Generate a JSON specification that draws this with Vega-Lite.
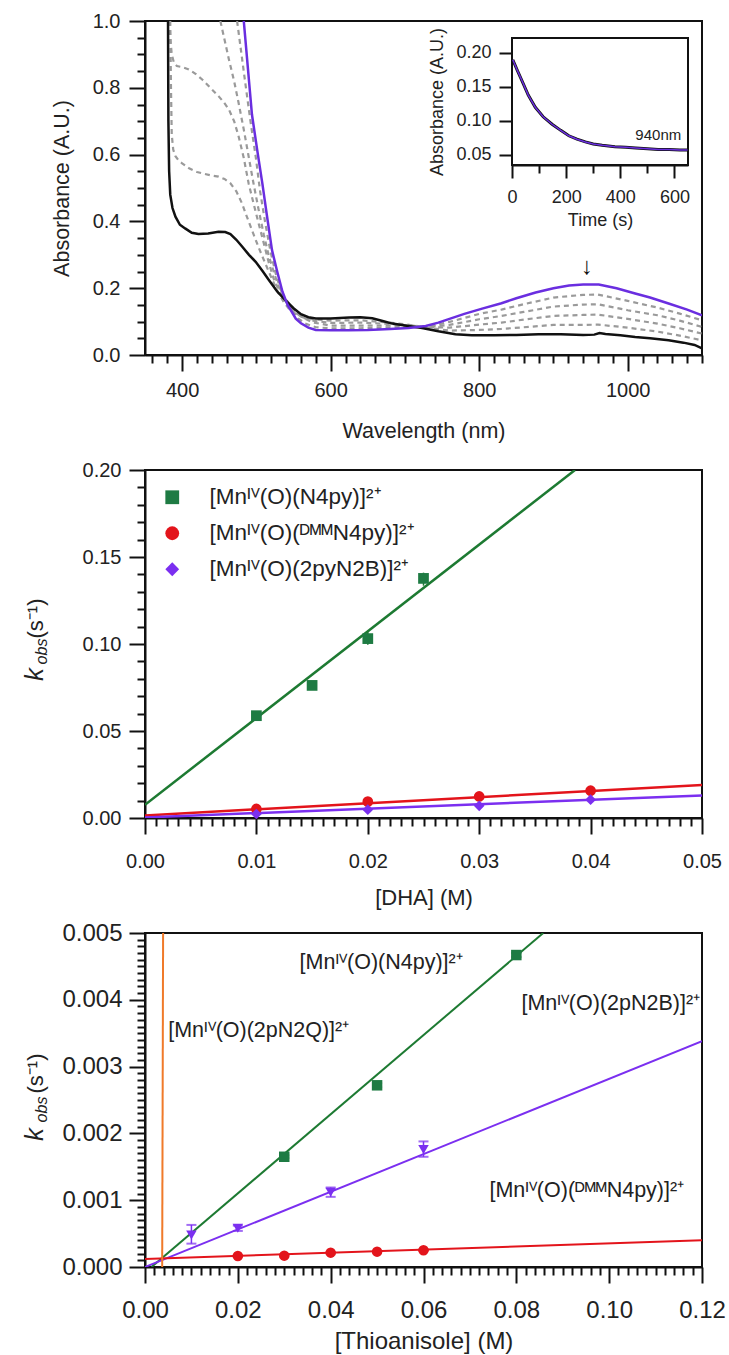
{
"$schema": "https://vega.github.io/schema/vega-lite/v6.json",
"background": "white",
"padding": {"left": 20, "top": 10, "right": 0, "bottom": 0},
"bounds": "flush",
"spacing": 115,
"resolve": {"scale": {"color": "independent", "shape": "independent", "stroke": "independent", "fill": "independent"}},
"config": {
 "font": "Liberation Sans",
 "view": {"stroke": "#111", "strokeWidth": 2},
 "axis": {"labelFont": "Liberation Sans", "titleFont": "Liberation Sans", "labelColor": "#222", "titleColor": "#222", "tickColor": "#111", "domainColor": "#111", "domainWidth": 2, "tickWidth": 2, "grid": false, "titleFontWeight": "normal", "labelOverlap": false, "labelFlush": false},
 "legend": {"labelFont": "Liberation Sans", "labelColor": "#222"},
 "text": {"font": "Liberation Sans", "color": "#222"}
},
"datasets": {
 "solid": [
  {"s":"k","w":381,"a":1.0},{"s":"k","w":381.5,"a":0.7},{"s":"k","w":382.5,"a":0.55},{"s":"k","w":384,"a":0.48},{"s":"k","w":387,"a":0.44},{"s":"k","w":391,"a":0.414},{"s":"k","w":397,"a":0.39},{"s":"k","w":404,"a":0.379},{"s":"k","w":413,"a":0.366},{"s":"k","w":422,"a":0.362},{"s":"k","w":435,"a":0.364},{"s":"k","w":449,"a":0.369},{"s":"k","w":458,"a":0.368},{"s":"k","w":465,"a":0.362},{"s":"k","w":473,"a":0.345},{"s":"k","w":481,"a":0.324},{"s":"k","w":490,"a":0.3},{"s":"k","w":499,"a":0.279},{"s":"k","w":508,"a":0.252},{"s":"k","w":517,"a":0.224},{"s":"k","w":528,"a":0.19},{"s":"k","w":539,"a":0.164},{"s":"k","w":550,"a":0.14},{"s":"k","w":560,"a":0.122},{"s":"k","w":570,"a":0.113},{"s":"k","w":580,"a":0.109},{"s":"k","w":600,"a":0.109},{"s":"k","w":625,"a":0.112},{"s":"k","w":640,"a":0.113},{"s":"k","w":656,"a":0.11},{"s":"k","w":670,"a":0.102},{"s":"k","w":683,"a":0.094},{"s":"k","w":700,"a":0.088},{"s":"k","w":723,"a":0.081},{"s":"k","w":745,"a":0.071},{"s":"k","w":768,"a":0.062},{"s":"k","w":790,"a":0.059},{"s":"k","w":820,"a":0.059},{"s":"k","w":850,"a":0.06},{"s":"k","w":880,"a":0.062},{"s":"k","w":910,"a":0.062},{"s":"k","w":940,"a":0.06},{"s":"k","w":955,"a":0.061},{"s":"k","w":962,"a":0.066},{"s":"k","w":970,"a":0.063},{"s":"k","w":990,"a":0.059},{"s":"k","w":1010,"a":0.054},{"s":"k","w":1030,"a":0.05},{"s":"k","w":1055,"a":0.044},{"s":"k","w":1075,"a":0.037},{"s":"k","w":1090,"a":0.03},{"s":"k","w":1100,"a":0.02},
  {"s":"p","w":483,"a":1.0},{"s":"p","w":494,"a":0.72},{"s":"p","w":501,"a":0.615},{"s":"p","w":508,"a":0.514},{"s":"p","w":514,"a":0.42},{"s":"p","w":521,"a":0.314},{"s":"p","w":528,"a":0.25},{"s":"p","w":535,"a":0.19},{"s":"p","w":542,"a":0.15},{"s":"p","w":548,"a":0.128},{"s":"p","w":553,"a":0.109},{"s":"p","w":560,"a":0.095},{"s":"p","w":570,"a":0.082},{"s":"p","w":580,"a":0.075},{"s":"p","w":600,"a":0.074},{"s":"p","w":624,"a":0.074},{"s":"p","w":650,"a":0.075},{"s":"p","w":680,"a":0.078},{"s":"p","w":705,"a":0.081},{"s":"p","w":728,"a":0.087},{"s":"p","w":745,"a":0.097},{"s":"p","w":760,"a":0.108},{"s":"p","w":780,"a":0.123},{"s":"p","w":804,"a":0.139},{"s":"p","w":830,"a":0.155},{"s":"p","w":850,"a":0.17},{"s":"p","w":876,"a":0.187},{"s":"p","w":900,"a":0.2},{"s":"p","w":921,"a":0.208},{"s":"p","w":940,"a":0.211},{"s":"p","w":961,"a":0.211},{"s":"p","w":985,"a":0.2},{"s":"p","w":1010,"a":0.184},{"s":"p","w":1030,"a":0.172},{"s":"p","w":1055,"a":0.154},{"s":"p","w":1080,"a":0.136},{"s":"p","w":1100,"a":0.119}
 ],
 "dashed": [
  {"s":"d1","w":474,"a":1.0},{"s":"d1","w":485,"a":0.815},{"s":"d1","w":492,"a":0.7},{"s":"d1","w":499,"a":0.595},{"s":"d1","w":505,"a":0.49},{"s":"d1","w":512,"a":0.394},{"s":"d1","w":519,"a":0.31},{"s":"d1","w":526,"a":0.244},{"s":"d1","w":532,"a":0.2},{"s":"d1","w":539,"a":0.164},{"s":"d1","w":548,"a":0.135},{"s":"d1","w":556,"a":0.11},{"s":"d1","w":565,"a":0.095},{"s":"d1","w":580,"a":0.083},{"s":"d1","w":600,"a":0.08},{"s":"d1","w":640,"a":0.08},{"s":"d1","w":680,"a":0.082},{"s":"d1","w":710,"a":0.083},{"s":"d1","w":730,"a":0.085},{"s":"d1","w":760,"a":0.099},{"s":"d1","w":800,"a":0.123},{"s":"d1","w":830,"a":0.136},{"s":"d1","w":860,"a":0.152},{"s":"d1","w":900,"a":0.172},{"s":"d1","w":940,"a":0.18},{"s":"d1","w":960,"a":0.181},{"s":"d1","w":1000,"a":0.162},{"s":"d1","w":1040,"a":0.142},{"s":"d1","w":1070,"a":0.124},{"s":"d1","w":1100,"a":0.104},
  {"s":"d2","w":451.5,"a":1.0},{"s":"d2","w":463,"a":0.885},{"s":"d2","w":470,"a":0.82},{"s":"d2","w":476,"a":0.755},{"s":"d2","w":483,"a":0.675},{"s":"d2","w":489.5,"a":0.595},{"s":"d2","w":496,"a":0.515},{"s":"d2","w":503,"a":0.435},{"s":"d2","w":510,"a":0.36},{"s":"d2","w":517,"a":0.294},{"s":"d2","w":524,"a":0.245},{"s":"d2","w":530,"a":0.204},{"s":"d2","w":537,"a":0.175},{"s":"d2","w":544,"a":0.154},{"s":"d2","w":552,"a":0.133},{"s":"d2","w":562,"a":0.113},{"s":"d2","w":575,"a":0.098},{"s":"d2","w":600,"a":0.088},{"s":"d2","w":640,"a":0.088},{"s":"d2","w":680,"a":0.088},{"s":"d2","w":710,"a":0.086},{"s":"d2","w":730,"a":0.084},{"s":"d2","w":760,"a":0.09},{"s":"d2","w":800,"a":0.107},{"s":"d2","w":830,"a":0.117},{"s":"d2","w":860,"a":0.129},{"s":"d2","w":900,"a":0.145},{"s":"d2","w":940,"a":0.151},{"s":"d2","w":960,"a":0.152},{"s":"d2","w":1000,"a":0.134},{"s":"d2","w":1040,"a":0.119},{"s":"d2","w":1070,"a":0.103},{"s":"d2","w":1100,"a":0.084},
  {"s":"d3","w":383,"a":1.0},{"s":"d3","w":384,"a":0.95},{"s":"d3","w":386,"a":0.9},{"s":"d3","w":389,"a":0.875},{"s":"d3","w":393,"a":0.865},{"s":"d3","w":400,"a":0.862},{"s":"d3","w":409,"a":0.855},{"s":"d3","w":418,"a":0.842},{"s":"d3","w":427,"a":0.825},{"s":"d3","w":438,"a":0.8},{"s":"d3","w":449,"a":0.775},{"s":"d3","w":456,"a":0.757},{"s":"d3","w":463,"a":0.735},{"s":"d3","w":470,"a":0.7},{"s":"d3","w":476,"a":0.655},{"s":"d3","w":483,"a":0.59},{"s":"d3","w":489.5,"a":0.514},{"s":"d3","w":496,"a":0.455},{"s":"d3","w":503,"a":0.394},{"s":"d3","w":510,"a":0.334},{"s":"d3","w":517,"a":0.274},{"s":"d3","w":523,"a":0.23},{"s":"d3","w":530,"a":0.194},{"s":"d3","w":537,"a":0.168},{"s":"d3","w":543.5,"a":0.149},{"s":"d3","w":552,"a":0.128},{"s":"d3","w":562,"a":0.112},{"s":"d3","w":575,"a":0.103},{"s":"d3","w":600,"a":0.096},{"s":"d3","w":640,"a":0.097},{"s":"d3","w":680,"a":0.093},{"s":"d3","w":710,"a":0.088},{"s":"d3","w":730,"a":0.083},{"s":"d3","w":760,"a":0.082},{"s":"d3","w":800,"a":0.091},{"s":"d3","w":830,"a":0.097},{"s":"d3","w":860,"a":0.106},{"s":"d3","w":900,"a":0.117},{"s":"d3","w":940,"a":0.12},{"s":"d3","w":960,"a":0.121},{"s":"d3","w":1000,"a":0.108},{"s":"d3","w":1040,"a":0.094},{"s":"d3","w":1070,"a":0.08},{"s":"d3","w":1100,"a":0.064},
  {"s":"d4","w":384,"a":1.0},{"s":"d4","w":385,"a":0.8},{"s":"d4","w":386,"a":0.66},{"s":"d4","w":388,"a":0.615},{"s":"d4","w":391,"a":0.595},{"s":"d4","w":395,"a":0.583},{"s":"d4","w":400,"a":0.574},{"s":"d4","w":410,"a":0.558},{"s":"d4","w":420,"a":0.548},{"s":"d4","w":427,"a":0.544},{"s":"d4","w":438,"a":0.538},{"s":"d4","w":449,"a":0.534},{"s":"d4","w":457,"a":0.527},{"s":"d4","w":465,"a":0.514},{"s":"d4","w":473,"a":0.49},{"s":"d4","w":480.6,"a":0.454},{"s":"d4","w":487,"a":0.415},{"s":"d4","w":494,"a":0.374},{"s":"d4","w":503,"a":0.322},{"s":"d4","w":512,"a":0.274},{"s":"d4","w":521,"a":0.227},{"s":"d4","w":530,"a":0.184},{"s":"d4","w":537,"a":0.158},{"s":"d4","w":543.5,"a":0.139},{"s":"d4","w":552,"a":0.124},{"s":"d4","w":562,"a":0.113},{"s":"d4","w":575,"a":0.107},{"s":"d4","w":600,"a":0.103},{"s":"d4","w":640,"a":0.104},{"s":"d4","w":680,"a":0.097},{"s":"d4","w":710,"a":0.089},{"s":"d4","w":730,"a":0.082},{"s":"d4","w":760,"a":0.073},{"s":"d4","w":800,"a":0.075},{"s":"d4","w":830,"a":0.078},{"s":"d4","w":860,"a":0.083},{"s":"d4","w":900,"a":0.09},{"s":"d4","w":940,"a":0.09},{"s":"d4","w":960,"a":0.091},{"s":"d4","w":1000,"a":0.082},{"s":"d4","w":1040,"a":0.07},{"s":"d4","w":1070,"a":0.058},{"s":"d4","w":1100,"a":0.044}
 ],
 "kin": [
  {"t":3,"a":0.19},{"t":20,"a":0.174},{"t":37,"a":0.159},{"t":60,"a":0.138},{"t":86,"a":0.12},{"t":115,"a":0.106},{"t":148,"a":0.095},{"t":180,"a":0.086},{"t":210,"a":0.078},{"t":240,"a":0.073},{"t":271,"a":0.069},{"t":300,"a":0.066},{"t":333,"a":0.064},{"t":380,"a":0.062},{"t":420,"a":0.061},{"t":457,"a":0.06},{"t":500,"a":0.059},{"t":540,"a":0.058},{"t":580,"a":0.058},{"t":620,"a":0.057},{"t":648,"a":0.057}
 ],
 "fit2": [
  {"c":"g","x":0,"y":0.0076},{"c":"g","x":0.0386,"y":0.2},
  {"c":"r","x":0,"y":0.0015},{"c":"r","x":0.05,"y":0.019},
  {"c":"p","x":0,"y":0.0003},{"c":"p","x":0.05,"y":0.013}
 ],
 "pts2": [
  {"c":"g","series":"[Mnᴵⱽ(O)(N4py)]²⁺","x":0.01,"y":0.0588,"lo":0.0578,"hi":0.0598},
  {"c":"g","series":"[Mnᴵⱽ(O)(N4py)]²⁺","x":0.015,"y":0.0762,"lo":0.0752,"hi":0.0772},
  {"c":"g","series":"[Mnᴵⱽ(O)(N4py)]²⁺","x":0.02,"y":0.1031,"lo":0.0995,"hi":0.107},
  {"c":"g","series":"[Mnᴵⱽ(O)(N4py)]²⁺","x":0.025,"y":0.1377,"lo":0.1335,"hi":0.141},
  {"c":"r","series":"[Mnᴵⱽ(O)(ᴰᴹᴹN4py)]²⁺","x":0.01,"y":0.0052,"lo":0.0047,"hi":0.0057},
  {"c":"r","series":"[Mnᴵⱽ(O)(ᴰᴹᴹN4py)]²⁺","x":0.02,"y":0.0094,"lo":0.0089,"hi":0.0099},
  {"c":"r","series":"[Mnᴵⱽ(O)(ᴰᴹᴹN4py)]²⁺","x":0.03,"y":0.0124,"lo":0.0119,"hi":0.0129},
  {"c":"r","series":"[Mnᴵⱽ(O)(ᴰᴹᴹN4py)]²⁺","x":0.04,"y":0.0157,"lo":0.0152,"hi":0.0162},
  {"c":"p","series":"[Mnᴵⱽ(O)(2pyN2B)]²⁺","x":0.01,"y":0.0023,"lo":0.0015,"hi":0.0031},
  {"c":"p","series":"[Mnᴵⱽ(O)(2pyN2B)]²⁺","x":0.02,"y":0.0048,"lo":0.004,"hi":0.0056},
  {"c":"p","series":"[Mnᴵⱽ(O)(2pyN2B)]²⁺","x":0.03,"y":0.007,"lo":0.0062,"hi":0.0078},
  {"c":"p","series":"[Mnᴵⱽ(O)(2pyN2B)]²⁺","x":0.04,"y":0.0105,"lo":0.0095,"hi":0.0115}
 ],
 "fit3": [
  {"series":"N4py","x":0.0014,"y":0},{"series":"N4py","x":0.0858,"y":0.005},
  {"series":"2pN2B","x":0,"y":0},{"series":"2pN2B","x":0.12,"y":0.00338},
  {"series":"DMM","x":0,"y":0.00012},{"series":"DMM","x":0.12,"y":0.0004},
  {"series":"2pN2Q","x":0.0037,"y":0},{"series":"2pN2Q","x":0.0039,"y":0.005}
 ],
 "pts3": [
  {"series":"N4py","x":0.03,"y":0.00165,"lo":0.00163,"hi":0.00167},
  {"series":"N4py","x":0.05,"y":0.00272,"lo":0.00269,"hi":0.00275},
  {"series":"N4py","x":0.08,"y":0.00467,"lo":0.00464,"hi":0.0047},
  {"series":"2pN2B","x":0.01,"y":0.00048,"lo":0.00035,"hi":0.00063},
  {"series":"2pN2B","x":0.02,"y":0.00058,"lo":0.00054,"hi":0.00062},
  {"series":"2pN2B","x":0.04,"y":0.00112,"lo":0.00105,"hi":0.00119},
  {"series":"2pN2B","x":0.06,"y":0.00176,"lo":0.00165,"hi":0.00188},
  {"series":"DMM","x":0.02,"y":0.000165,"lo":0.000155,"hi":0.000175},
  {"series":"DMM","x":0.03,"y":0.00017,"lo":0.00016,"hi":0.00018},
  {"series":"DMM","x":0.04,"y":0.000215,"lo":0.000205,"hi":0.000225},
  {"series":"DMM","x":0.05,"y":0.00023,"lo":0.00022,"hi":0.00024},
  {"series":"DMM","x":0.06,"y":0.00025,"lo":0.00024,"hi":0.00026}
 ],
 "lab3": [
  {"x":0.0333,"y":0.00455,"t":"[Mnᴵⱽ(O)(N4py)]²⁺"},
  {"x":0.005,"y":0.00353,"t":"[Mnᴵⱽ(O)(2pN2Q)]²⁺"},
  {"x":0.0811,"y":0.00394,"t":"[Mnᴵⱽ(O)(2pN2B)]²⁺"},
  {"x":0.0742,"y":0.00114,"t":"[Mnᴵⱽ(O)(ᴰᴹᴹN4py)]²⁺"}
 ]
},
"vconcat": [
 {
  "width": 557, "height": 334,
  "layer": [
   {"encoding": {
      "x": {"field": "w", "type": "quantitative", "scale": {"domain": [350, 1100], "nice": false, "zero": false},
        "axis": {"values": [360,380,400,420,440,460,480,500,520,540,560,580,600,620,640,660,680,700,720,740,760,780,800,820,840,860,880,900,920,940,960,980,1000,1020,1040,1060,1080,1100],
          "format": "d", "labelOverlap": false, "labelFlush": false,
          "labelExpr": "datum.value % 200 === 0 ? datum.label : ''",
          "tickSize": {"condition": {"test": "datum.value % 200 === 0", "value": 16}, "value": 8},
          "labelFontSize": 20, "labelPadding": 9, "title": "Wavelength (nm)", "titleFontSize": 21.5, "titlePadding": 20}},
      "y": {"field": "a", "type": "quantitative", "scale": {"domain": [0, 1], "nice": false, "zero": false},
        "axis": {"values": [0,0.05,0.1,0.15,0.2,0.25,0.3,0.35,0.4,0.45,0.5,0.55,0.6,0.65,0.7,0.75,0.8,0.85,0.9,0.95,1],
          "format": ".1f", "labelOverlap": false, "labelFlush": false,
          "labelExpr": "abs(datum.value*5 - round(datum.value*5)) < 1e-6 ? datum.label : ''",
          "tickSize": {"condition": {"test": "abs(datum.value*5 - round(datum.value*5)) < 1e-6", "value": 16}, "value": 8},
          "labelFontSize": 20, "labelPadding": 9, "title": "Absorbance (A.U.)", "titleFontSize": 21.5, "titleX": -83, "titleBaseline": "middle"}}
    },
    "layer": [
    {"data": {"name": "dashed"},
     "mark": {"type": "line", "strokeDash": [5, 4], "strokeWidth": 2.2, "color": "#9a9a9a", "clip": true},
     "encoding": {"detail": {"field": "s"}}},
    {"data": {"name": "solid"},
     "mark": {"type": "line", "strokeWidth": 2.5, "clip": true},
     "encoding": {
      "stroke": {"field": "s", "type": "nominal", "scale": {"domain": ["k", "p"], "range": ["#111111", "#6a2ee0"]}, "legend": null}
     }},
    {"data": {"values": [{"w": 945, "a": 0.262, "t": "↓"}]},
     "mark": {"type": "text", "fontSize": 24, "baseline": "middle", "align": "center", "color": "#111"},
     "encoding": {"text": {"field": "t"}}}
   ]},
   {"layer": [
    {"data": {"values": [{"t0": 0, "t1": 650, "a0": 0.035, "a1": 0.222}]},
     "mark": {"type": "rect", "fill": "white", "stroke": "#111", "strokeWidth": 2},
     "encoding": {
      "x": {"field": "t0", "type": "quantitative", "scale": {"domain": [0, 650], "range": [367, 543], "nice": false, "zero": false},
        "axis": {"orient": "bottom", "offset": -190, "values": [0,100,200,300,400,500,600], "labelOverlap": false, "labelFlush": false,
          "labelExpr": "datum.value % 200 === 0 ? datum.label : ''",
          "tickSize": {"condition": {"test": "datum.value % 200 === 0", "value": 13}, "value": 8},
          "labelFontSize": 18, "labelPadding": 10, "title": "Time (s)", "titleFontSize": 18, "titlePadding": 5}},
      "x2": {"field": "t1"},
      "y": {"field": "a0", "type": "quantitative", "scale": {"domain": [0.035, 0.222], "range": [144, 17], "nice": false, "zero": false},
        "axis": {"orient": "left", "offset": -367, "values": [0.05, 0.1, 0.15, 0.2], "format": ".2f", "tickSize": 13, "labelOverlap": false, "labelFlush": false,
          "labelFontSize": 18, "labelPadding": 8, "title": "Absorbance (A.U.)", "titleFontSize": 18, "titleX": -75, "titleBaseline": "middle"}},
      "y2": {"field": "a1"}
     }},
    {"data": {"name": "kin"},
     "mark": {"type": "line", "color": "#111", "strokeWidth": 3},
     "encoding": {"x": {"field": "t", "type": "quantitative"}, "y": {"field": "a", "type": "quantitative"}}},
    {"data": {"name": "kin"},
     "mark": {"type": "line", "color": "#6a2ee0", "strokeWidth": 1.5},
     "encoding": {"x": {"field": "t", "type": "quantitative"}, "y": {"field": "a", "type": "quantitative"}}},
    {"data": {"values": [{"t": 625, "a": 0.072, "lab": "940nm"}]},
     "mark": {"type": "text", "fontSize": 15, "align": "right", "baseline": "alphabetic"},
     "encoding": {"x": {"field": "t", "type": "quantitative"}, "y": {"field": "a", "type": "quantitative"}, "text": {"field": "lab"}}}
   ]}
  ],
  "resolve": {"scale": {"x": "independent", "y": "independent"}, "axis": {"x": "independent", "y": "independent"}}
 },
 {
  "width": 557, "height": 348,
  "resolve": {"axis": {"y": "independent"}},
  "encoding": {
   "x": {"field": "x", "type": "quantitative", "scale": {"domain": [0, 0.05], "nice": false, "zero": false},
     "axis": {"values": [0,0.001,0.002,0.003,0.004,0.005,0.006,0.007,0.008,0.009,0.01,0.011,0.012,0.013,0.014,0.015,0.016,0.017,0.018,0.019,0.02,0.021,0.022,0.023,0.024,0.025,0.026,0.027,0.028,0.029,0.03,0.031,0.032,0.033,0.034,0.035,0.036,0.037,0.038,0.039,0.04,0.041,0.042,0.043,0.044,0.045,0.046,0.047,0.048,0.049,0.05],
       "format": ".2f", "labelOverlap": false, "labelFlush": false,
       "labelExpr": "abs(datum.value*100 - round(datum.value*100)) < 1e-6 ? datum.label : ''",
       "tickSize": {"condition": {"test": "abs(datum.value*100 - round(datum.value*100)) < 1e-6", "value": 16}, "value": 8},
       "labelFontSize": 20, "labelPadding": 17, "title": "[DHA] (M)", "titleFontSize": 22, "titlePadding": 16}}
  },
  "layer": [
   {"data": {"name": "fit2"},
    "mark": {"type": "line", "strokeWidth": 2.5, "clip": true},
    "encoding": {
     "y": {"field": "y", "type": "quantitative", "scale": {"domain": [0, 0.2], "nice": false, "zero": false},
       "axis": {"orient": "left", "values": [0,0.01,0.02,0.03,0.04,0.05,0.06,0.07,0.08,0.09,0.1,0.11,0.12,0.13,0.14,0.15,0.16,0.17,0.18,0.19,0.2],
         "format": ".2f", "labelOverlap": false, "labelFlush": false,
         "labelExpr": "abs(datum.value*20 - round(datum.value*20)) < 1e-6 ? datum.label : ''",
         "tickSize": {"condition": {"test": "abs(datum.value*20 - round(datum.value*20)) < 1e-6", "value": 16}, "value": 8},
         "labelFontSize": 20, "labelPadding": 8, "title": "k", "titleFontSize": 26, "titleFontStyle": "italic", "titleX": -111, "titleY": 204, "titleBaseline": "middle", "titleAlign": "center"}},
     "stroke": {"field": "c", "type": "nominal", "scale": {"domain": ["g", "r", "p"], "range": ["#1d7a32", "#e3141b", "#7b2ff0"]}, "legend": null}
    }},
   {"data": {"name": "pts2"},
    "mark": {"type": "rule", "strokeWidth": 1.5},
    "encoding": {
     "y": {"field": "lo", "type": "quantitative",
       "axis": {"orient": "left", "labels": false, "ticks": false, "domain": false, "title": "obs", "titleFontSize": 16, "titleFontStyle": "italic", "titleX": -104, "titleY": 181, "titleBaseline": "middle", "titleAlign": "center"}},
     "y2": {"field": "hi"},
     "stroke": {"field": "c", "type": "nominal", "legend": null}
    }},
   {"data": {"name": "pts2"},
    "mark": {"type": "point", "filled": true, "size": 115, "opacity": 1},
    "encoding": {
     "y": {"field": "y", "type": "quantitative",
       "axis": {"orient": "left", "labels": false, "ticks": false, "domain": false, "title": "(s⁻¹)", "titleFontSize": 22, "titleX": -110, "titleY": 148, "titleBaseline": "middle", "titleAlign": "center"}},
     "color": {"field": "series", "type": "nominal", "scale": {"domain": ["[Mnᴵⱽ(O)(N4py)]²⁺", "[Mnᴵⱽ(O)(ᴰᴹᴹN4py)]²⁺", "[Mnᴵⱽ(O)(2pyN2B)]²⁺"], "range": ["#1e7b43", "#e3141b", "#7b2ff0"]},
       "legend": {"orient": "none", "legendX": 16, "legendY": 16, "title": null, "labelFontSize": 22.5, "labelLimit": 500, "rowPadding": 13, "labelOffset": 26, "symbolSize": 190, "padding": 0, "symbolStrokeWidth": 0}},
     "shape": {"field": "series", "type": "nominal", "scale": {"domain": ["[Mnᴵⱽ(O)(N4py)]²⁺", "[Mnᴵⱽ(O)(ᴰᴹᴹN4py)]²⁺", "[Mnᴵⱽ(O)(2pyN2B)]²⁺"], "range": ["square", "circle", "diamond"]},
       "legend": {"orient": "none", "legendX": 16, "legendY": 16, "title": null, "labelFontSize": 22.5, "labelLimit": 500, "rowPadding": 13, "labelOffset": 26, "symbolSize": 190, "padding": 0, "symbolStrokeWidth": 0}}
    }}
  ]
 },
 {
  "width": 557, "height": 334,
  "resolve": {"axis": {"y": "independent"}},
  "encoding": {
   "x": {"field": "x", "type": "quantitative", "scale": {"domain": [0, 0.12], "nice": false, "zero": false},
     "axis": {"values": [0,0.002,0.004,0.006,0.008,0.01,0.012,0.014,0.016,0.018,0.02,0.022,0.024,0.026,0.028,0.03,0.032,0.034,0.036,0.038,0.04,0.042,0.044,0.046,0.048,0.05,0.052,0.054,0.056,0.058,0.06,0.062,0.064,0.066,0.068,0.07,0.072,0.074,0.076,0.078,0.08,0.082,0.084,0.086,0.088,0.09,0.092,0.094,0.096,0.098,0.1,0.102,0.104,0.106,0.108,0.11,0.112,0.114,0.116,0.118,0.12],
       "format": ".2f", "labelOverlap": false, "labelFlush": false,
       "labelExpr": "abs(datum.value*50 - round(datum.value*50)) < 1e-6 ? datum.label : ''",
       "tickSize": {"condition": {"test": "abs(datum.value*50 - round(datum.value*50)) < 1e-6", "value": 16}, "value": 8},
       "labelFontSize": 24, "labelPadding": 15, "title": "[Thioanisole] (M)", "titleFontSize": 24, "titlePadding": 7}}
  },
  "layer": [
   {"data": {"name": "fit3"},
    "mark": {"type": "line", "strokeWidth": 2, "clip": true},
    "encoding": {
     "y": {"field": "y", "type": "quantitative", "scale": {"domain": [0, 0.005], "nice": false, "zero": false},
       "axis": {"orient": "left", "values": [0,0.0001,0.0002,0.0003,0.0004,0.0005,0.0006,0.0007,0.0008,0.0009,0.001,0.0011,0.0012,0.0013,0.0014,0.0015,0.0016,0.0017,0.0018,0.0019,0.002,0.0021,0.0022,0.0023,0.0024,0.0025,0.0026,0.0027,0.0028,0.0029,0.003,0.0031,0.0032,0.0033,0.0034,0.0035,0.0036,0.0037,0.0038,0.0039,0.004,0.0041,0.0042,0.0043,0.0044,0.0045,0.0046,0.0047,0.0048,0.0049,0.005],
         "format": ".3f", "labelOverlap": false, "labelFlush": false,
         "labelExpr": "abs(datum.value*1000 - round(datum.value*1000)) < 1e-6 ? datum.label : ''",
         "tickSize": {"condition": {"test": "abs(datum.value*1000 - round(datum.value*1000)) < 1e-6", "value": 16}, "value": 8},
         "labelFontSize": 24, "labelPadding": 7, "title": "k", "titleFontSize": 26, "titleFontStyle": "italic", "titleX": -111, "titleY": 201, "titleBaseline": "middle", "titleAlign": "center"}},
     "stroke": {"field": "series", "type": "nominal", "scale": {"domain": ["N4py", "DMM", "2pN2B", "2pN2Q"], "range": ["#1d7a32", "#e3141b", "#7b2ff0", "#f07a2a"]}, "legend": null}
    }},
   {"data": {"name": "pts3"},
    "mark": {"type": "rule", "strokeWidth": 1.5},
    "encoding": {
     "y": {"field": "lo", "type": "quantitative",
       "axis": {"orient": "left", "labels": false, "ticks": false, "domain": false, "title": "obs", "titleFontSize": 16, "titleFontStyle": "italic", "titleX": -104, "titleY": 176, "titleBaseline": "middle", "titleAlign": "center"}},
     "y2": {"field": "hi"},
     "stroke": {"field": "series", "type": "nominal", "legend": null}
    }},
   {"data": {"name": "pts3"},
    "mark": {"type": "tick", "orient": "horizontal", "size": 10, "thickness": 2},
    "encoding": {
     "y": {"field": "hi", "type": "quantitative", "axis": null},
     "fill": {"field": "series", "type": "nominal", "scale": {"domain": ["N4py", "DMM", "2pN2B", "2pN2Q"], "range": ["#1d7a32", "#e3141b", "#7b2ff0", "#f07a2a"]}, "legend": null}
    }},
   {"data": {"name": "pts3"},
    "mark": {"type": "tick", "orient": "horizontal", "size": 10, "thickness": 2},
    "encoding": {
     "y": {"field": "lo", "type": "quantitative", "axis": null},
     "fill": {"field": "series", "type": "nominal", "legend": null}
    }},
   {"data": {"name": "pts3"},
    "mark": {"type": "point", "filled": true, "size": 110, "opacity": 1},
    "encoding": {
     "y": {"field": "y", "type": "quantitative",
       "axis": {"orient": "left", "labels": false, "ticks": false, "domain": false, "title": "(s⁻¹)", "titleFontSize": 22, "titleX": -110, "titleY": 140, "titleBaseline": "middle", "titleAlign": "center"}},
     "color": {"field": "series", "type": "nominal", "scale": {"domain": ["N4py", "DMM", "2pN2B", "2pN2Q"], "range": ["#1e7b43", "#e3141b", "#7b2ff0", "#f07a2a"]}, "legend": null},
     "shape": {"field": "series", "type": "nominal", "scale": {"domain": ["N4py", "DMM", "2pN2B", "2pN2Q"], "range": ["square", "circle", "triangle-down", "circle"]}, "legend": null}
    }},
   {"data": {"name": "lab3"},
    "mark": {"type": "text", "fontSize": 21.5, "align": "left", "baseline": "middle"},
    "encoding": {"y": {"field": "y", "type": "quantitative", "axis": null}, "text": {"field": "t"}}}
  ]
 }
]
}
